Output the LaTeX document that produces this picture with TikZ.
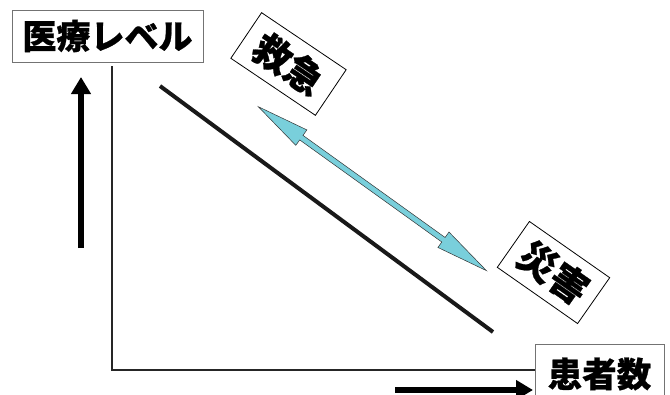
\documentclass[tikz,border=0pt]{standalone}
\usepackage{fontspec}
\newfontfamily\cjk{Noto Sans CJK JP}[BoldFeatures={FakeBold=0.7}]
\usetikzlibrary{arrows.meta}
\definecolor{arrowcyan}{HTML}{79CFDB}
\begin{document}
\begin{tikzpicture}[x=1pt,y=-1pt,
  lbl/.style={inner sep=0pt, font=\cjk\bfseries},
  axis/.style={line width=2pt, black!85},
  bigarrow/.style={line width=6.5pt, -{Triangle[length=17pt,width=19pt]}},
  diag/.style={line width=4pt, black!90}]
\useasboundingbox (0,0) rectangle (670,394);
% boxes
\node[lbl, draw=black!55, line width=1pt, minimum width=191pt, minimum height=52pt,
      font=\cjk\bfseries\fontsize{34}{34}\selectfont] (med) at (107.5,36) {医療レベル};
\node[lbl, draw=black!55, line width=1pt, minimum width=129pt, minimum height=60pt,
      font=\cjk\bfseries\fontsize{34.5}{34.5}\selectfont] (pat) at (599.5,374) {患者数};
\node[lbl, draw=black, line width=0.8pt, minimum width=102pt, minimum height=55pt, rotate=-34,
      font=\cjk\bfseries\fontsize{38}{38}\selectfont] (emg) at (288.5,64) {救急};
\node[lbl, draw=black, line width=0.8pt, minimum width=98pt, minimum height=56pt, rotate=-35,
      font=\cjk\bfseries\fontsize{38}{38}\selectfont] (dis) at (553.5,272.5) {災害};
% axes
\coordinate (ytop) at (112,66);
\coordinate (origin) at (112,370);
\draw[axis] (ytop) -- (origin) -- (pat.west |- origin);
% black arrows
\coordinate (ua1) at (81,248);
\coordinate (ua2) at (81,77);
\draw[bigarrow] (ua1) -- (ua2);
\coordinate (ra1) at (395,390);
\coordinate (ra2) at (533,390);
\draw[bigarrow] (ra1) -- (ra2);
% diagonal line
\coordinate (d1) at (160,86);
\coordinate (d2) at (493,332);
\draw[diag] (d1) -- (d2);
% cyan double arrow
\coordinate (c1) at (258.3,106.7);
\begin{scope}[shift={(c1)}, rotate=-35.7]
\filldraw[fill=arrowcyan, draw=black!80, line width=0.5pt]
  (0,0) -- (53,-9.5) -- (53,-2.8) -- (228,-2.8) -- (228,-9.5) -- (281,0)
  -- (228,9.5) -- (228,2.8) -- (53,2.8) -- (53,9.5) -- cycle;
\end{scope}
\end{tikzpicture}
\end{document}
